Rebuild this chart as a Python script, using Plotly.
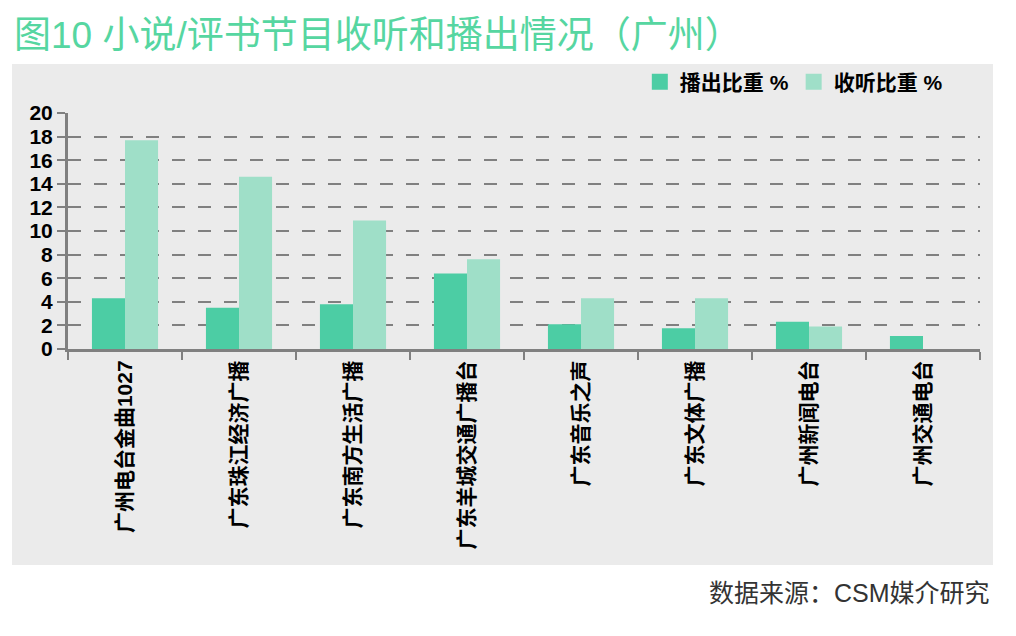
import plotly.graph_objects as go

# 广州 小说/评书节目 收听与播出比重
stations = [
    "广州电台金曲1027",
    "广东珠江经济广播",
    "广东南方生活广播",
    "广东羊城交通广播台",
    "广东音乐之声",
    "广东文体广播",
    "广州新闻电台",
    "广州交通电台",
]
broadcast_share = [4.3, 3.5, 3.8, 6.4, 2.1, 1.75, 2.3, 1.1]
listening_share = [17.7, 14.6, 10.9, 7.6, 4.3, 4.3, 1.9, 0]
y_ticks = list(range(0, 21, 2))

DARK = "#4ccda4"
LIGHT = "#9fdfc8"
GREY = "#808080"
FONT = "Liberation Sans, Arial, Noto Sans CJK SC"

fig = go.Figure()
fig.add_trace(go.Bar(x=stations, y=broadcast_share, name="播出比重 %",
                     marker=dict(color=DARK, line=dict(width=0)), showlegend=False))
fig.add_trace(go.Bar(x=stations, y=listening_share, name="收听比重 %",
                     marker=dict(color=LIGHT, line=dict(width=0)), showlegend=False))

# legend entries with bigger square swatches
for name, color in [("播出比重 %", DARK), ("收听比重 %", LIGHT)]:
    fig.add_trace(go.Scatter(x=[None], y=[None], mode="markers", name=name,
                             marker=dict(symbol="square", size=16, color=color)))

# the page body has an 8px margin, so the figure is 8px smaller and shifted
fig.update_layout(
    width=1008, height=628,
    margin=dict(l=60, r=36, t=105, b=287),
    paper_bgcolor="white",
    plot_bgcolor="#ebebeb",
    barmode="group",
    bargap=0.42,
    bargroupgap=0,
    font=dict(family=FONT, color="black"),
    showlegend=True,
    legend=dict(orientation="h", x=0.627, y=1.131, xanchor="left", yanchor="middle",
                bgcolor="rgba(0,0,0,0)", font=dict(size=21, weight="bold"),
                itemwidth=30, tracegroupgap=0),
    xaxis=dict(
        type="category", showline=True, linecolor=GREY, linewidth=3,
        ticks="outside", tickson="boundaries", ticklen=8, tickwidth=2, tickcolor=GREY,
        tickangle=-90, tickfont=dict(size=21, weight="bold", color="black"),
        showgrid=False, layer="above traces", range=[-0.5, 7.5],
    ),
    yaxis=dict(
        range=[0, 20], tickvals=y_ticks, showline=True, linecolor=GREY, linewidth=3,
        ticks="outside", ticklen=8, tickwidth=2, tickcolor=GREY,
        tickfont=dict(size=21, weight="bold", color="black"),
        showgrid=True, gridcolor=GREY, gridwidth=2, griddash="13px,13px",
        zeroline=False, layer="above traces",
    ),
    shapes=[dict(type="rect", xref="paper", yref="paper", x0=-0.0614, x1=1.0143,
                 y0=-0.915, y1=1.2076, fillcolor="#ebebeb", line=dict(width=0),
                 layer="below")],
    annotations=[
        dict(text="图10 小说/评书节目收听和播出情况（广州）", xref="paper", yref="paper",
             x=-0.0614, y=1.33, xanchor="left", yanchor="middle", showarrow=False,
             font=dict(size=37, color="#56d6a1", family="Liberation Sans, Noto Sans CJK SC")),
        dict(text="数据来源：CSM媒介研究", xref="paper", yref="paper",
             x=1.0132, y=-1.034, xanchor="right", yanchor="middle", showarrow=False,
             font=dict(size=25, color="#333333", family="Liberation Sans, Noto Sans CJK SC")),
    ],
)

fig.write_html("out.html")
